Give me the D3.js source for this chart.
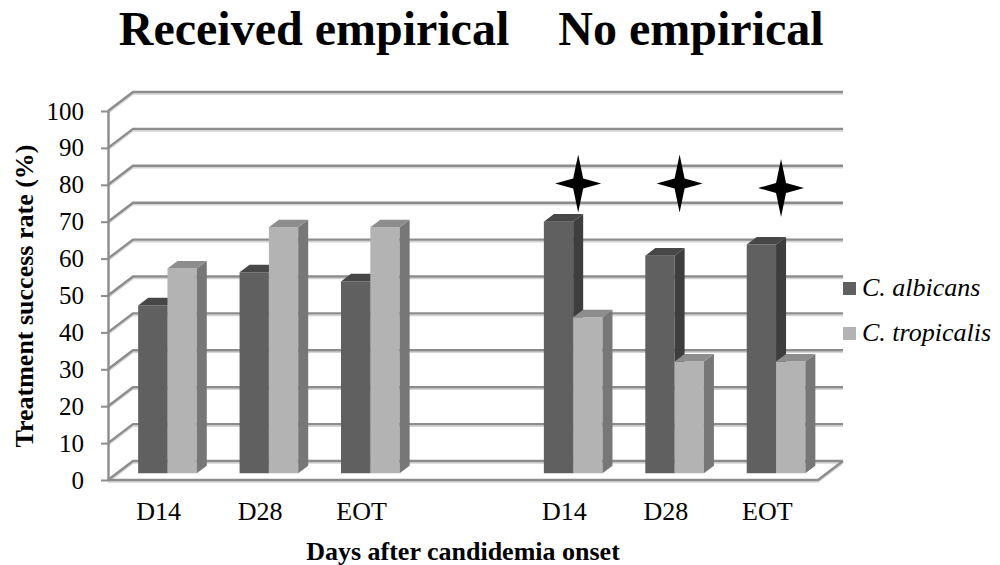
<!DOCTYPE html>
<html>
<head>
<meta charset="utf-8">
<script src="https://cdn.jsdelivr.net/npm/d3@7"></script>
<style>
  html, body { margin: 0; padding: 0; background: #fff; }
  svg { display: block; }
  svg text { font-family: "Liberation Serif", "Times New Roman", serif; }
</style>
</head>
<body>
<svg id="chart" width="1000" height="565"></svg>
<script>
// Categories along the x axis (the blank slot separates the two groups)
const categories = ["D14", "D28", "EOT", "", "D14", "D28", "EOT"];
const groupTitles = ["Received empirical", "No empirical"];
const seriesNames = ["C. albicans", "C. tropicalis"];
// Treatment success rate (%) per category; null = empty slot
const albicans   = [45.5, 54.5, 52.0, null, 68.2, 59.0, 62.0];
const tropicalis = [55.5, 66.7, 66.7, null, 42.3, 30.3, 30.3];
// Significance markers above the "No empirical" columns
const starCategories = [4, 5, 6];
const starValues = [77.5, 77.5, 76.3];
const yTicks = [0, 10, 20, 30, 40, 50, 60, 70, 80, 90, 100];

const SERIF = "'Liberation Serif', 'Times New Roman', serif";
const svg = d3.select("#chart");

// Front plane geometry and 3D depth offset
const X0 = 108, X1 = 818;
const DX = 25, DY = 19;
const Z0 = 0.35, Z1 = 0.75;   // bar depth range

const y = d3.scaleLinear().domain([0, 100]).range([480, 111]);
const x = d3.scaleBand().domain(d3.range(categories.length)).range([X0, X1]).padding(0);
const xs = d3.scaleBand().domain(seriesNames).range([0, x.bandwidth()]).paddingInner(0).paddingOuter(0.73);

const P = (px, v, z) => [px + z * DX, y(v) - z * DY];
const line = d3.line();

// ---- back wall gridlines and side wall diagonals ----
const grid = svg.append("g");
yTicks.forEach(v => {
  const a = P(X0, v, 0), b = P(X0, v, 1), c = P(X1, v, 1);
  grid.append("path").attr("d", line([[a[0], a[1] + 2], [b[0], b[1] + 2], [c[0], c[1] + 2]]))
    .attr("fill", "none").attr("stroke", "#d4d4d4").attr("stroke-width", 1.6);
  grid.append("path").attr("d", line([a, b, c]))
    .attr("fill", "none").attr("stroke", "#8c8c8c").attr("stroke-width", 2.4);
});

// ---- floor edges ----
const f0 = P(X1, 0, 0), f1 = P(X1, 0, 1);
svg.append("path").attr("d", line([[X0, y(0) + 2], [f0[0], f0[1] + 2], [f1[0], f1[1] + 2]]))
  .attr("fill", "none").attr("stroke", "#d4d4d4").attr("stroke-width", 1.6);
svg.append("path").attr("d", line([[X0, y(0)], f0, f1]))
  .attr("fill", "none").attr("stroke", "#8c8c8c").attr("stroke-width", 2.4);

// ---- y axis ----
const yAxis = svg.append("g").attr("transform", `translate(${X0},0)`)
  .call(d3.axisLeft(y).tickValues(yTicks).tickSizeInner(7).tickSizeOuter(0).tickPadding(17));
yAxis.attr("font-family", null);
yAxis.select(".domain").attr("stroke", "#8c8c8c").attr("stroke-width", 2.4);
yAxis.selectAll(".tick line").attr("stroke", "#8c8c8c").attr("stroke-width", 2);
yAxis.selectAll(".tick text").attr("fill", "#000")
  .style("font-family", SERIF).style("font-size", "25px");

// ---- x axis labels ----
const xAxis = svg.append("g").attr("transform", `translate(0,${y(0)})`)
  .call(d3.axisBottom(x).tickSize(0).tickPadding(22).tickFormat(i => categories[i]));
xAxis.attr("font-family", null);
xAxis.select(".domain").remove();
xAxis.selectAll(".tick text").attr("fill", "#000")
  .style("font-family", SERIF).style("font-size", "26px");

// ---- 3D columns ----
const seriesStyle = {
  "C. albicans":   { front: "#606060", side: "#3e3e3e", top: "#474747" },
  "C. tropicalis": { front: "#b3b3b3", side: "#777777", top: "#8d8d8d" }
};
const seriesData = { "C. albicans": albicans, "C. tropicalis": tropicalis };

const bars = svg.append("g");
categories.forEach((cat, i) => {
  seriesNames.forEach(s => {
    const v = seriesData[s][i];
    if (v == null) return;
    const xl = x(i) + xs(s), xr = xl + xs.bandwidth();
    const st = seriesStyle[s];
    const g = bars.append("g");
    g.append("path").attr("fill", st.front)
      .attr("d", line([P(xl, 0, Z0), P(xr, 0, Z0), P(xr, v, Z0), P(xl, v, Z0)]) + "Z");
    g.append("path").attr("fill", st.side)
      .attr("d", line([P(xr, 0, Z0), P(xr, 0, Z1), P(xr, v, Z1), P(xr, v, Z0)]) + "Z");
    g.append("path").attr("fill", st.top)
      .attr("d", line([P(xl, v, Z0), P(xr, v, Z0), P(xr, v, Z1), P(xl, v, Z1)]) + "Z");
  });
});

// ---- significance stars (four-pointed) ----
const starPath = "M0,-29 L5,-5 L23,0 L5,5 L0,29 L-5,5 L-23,0 L-5,-5Z";
starCategories.forEach((ci, k) => {
  const c = P(x(ci) + x.bandwidth() / 2, starValues[k], 0.55);
  svg.append("path").attr("d", starPath).attr("fill", "#000")
    .attr("transform", `translate(${c[0]},${c[1]})`);
});

// ---- group titles ----
const titleX = [314, 691];
groupTitles.forEach((t, k) => {
  svg.append("text").attr("x", titleX[k]).attr("y", 45)
    .attr("text-anchor", "middle").style("font-family", SERIF)
    .style("font-size", "48px").style("font-weight", "bold")
    .text(t);
});

// ---- axis titles ----
svg.append("text").attr("transform", "translate(33,296) rotate(-90)")
  .attr("text-anchor", "middle").style("font-family", SERIF)
  .style("font-size", "26px").style("font-weight", "bold")
  .text("Treatment success rate (%)");
svg.append("text").attr("x", 463).attr("y", 560)
  .attr("text-anchor", "middle").style("font-family", SERIF)
  .style("font-size", "26px").style("font-weight", "bold")
  .text("Days after candidemia onset");

// ---- legend ----
const legend = svg.append("g").attr("transform", "translate(843,282)");
seriesNames.forEach((s, k) => {
  const row = legend.append("g").attr("transform", `translate(0,${k * 45})`);
  row.append("rect").attr("width", 13).attr("height", 13).attr("fill", seriesStyle[s].front);
  row.append("text").attr("x", 19).attr("y", 14)
    .style("font-family", SERIF).style("font-size", "26px").style("font-style", "italic")
    .text(s);
});
</script>
</body>
</html>
